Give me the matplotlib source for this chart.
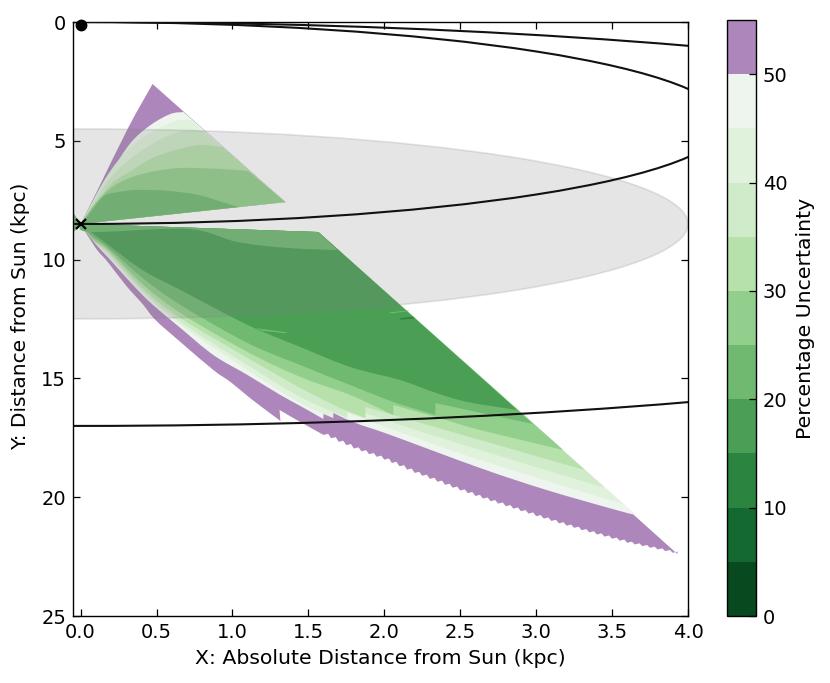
import numpy as np
import matplotlib
matplotlib.use("Agg")
import matplotlib.pyplot as plt
from matplotlib.colors import ListedColormap, BoundaryNorm
from matplotlib.cm import ScalarMappable
from matplotlib.patches import Circle, PathPatch
from matplotlib.path import Path

plt.rcParams['font.family'] = 'DejaVu Sans'

# uncertainty levels and their colours
levels = [0, 5, 10, 15, 20, 25, 30, 35, 40, 45, 50]
band_colors = ['#08491f', '#13692f', '#2b843f', '#4a9f55', '#6fba70',
               '#93cf8c', '#b6e1ab', '#cfebc9', '#e0f2db', '#eef4ee']
over_color = '#ad86bb'
cbar_ticks = [0, 10, 20, 30, 40, 50]
x_ticks = [0.0, 0.5, 1.0, 1.5, 2.0, 2.5, 3.0, 3.5, 4.0]
y_ticks = [0, 5, 10, 15, 20, 25]

# reference geometry (kpc)
sun = (0.0, 0.12)
galactic_centre = (0.0, 8.5)
bulge_radius = 4.0
circle_radii = [8.5, 4.25]
circle_centres_y = [8.5, 4.25]

# lower wedge: corners
low_corner = (1.566, 8.84)
low_tip = (3.93, 22.39)

# lower wedge: outer limit (smooth part, notch)
low_outer_x = [0.099, 0.184, 0.296, 0.408, 0.493, 0.658, 0.875, 0.987, 1.099, 1.184, 1.316, 1.31, 1.434]
low_outer_y = [9.51, 10.14, 11.07, 11.87, 12.54, 13.47, 14.65, 15.15, 15.74, 16.16, 16.79, 16.33, 16.79]
# lower wedge: outer limit (stepped part)
teeth_x = [1.60, 1.65, 1.70, 1.75, 1.80, 1.85, 1.90, 1.95, 2.00, 2.05, 2.10, 2.15,
           2.20, 2.25, 2.30, 2.35, 2.40, 2.45, 2.50, 2.55, 2.60, 2.65, 2.70, 2.75,
           2.80, 2.85, 2.90, 2.95, 3.00, 3.05, 3.10, 3.15, 3.20, 3.25, 3.30, 3.35,
           3.40, 3.45, 3.50, 3.55, 3.60, 3.65, 3.70, 3.75, 3.80, 3.85, 3.90]
teeth_y = [17.38, 17.52, 17.67, 17.81, 17.95, 18.07, 18.19, 18.30, 18.42, 18.56, 18.70, 18.84,
           18.98, 19.10, 19.23, 19.35, 19.48, 19.60, 19.72, 19.83, 19.95, 20.06, 20.17, 20.27,
           20.38, 20.48, 20.59, 20.69, 20.80, 20.90, 21.00, 21.10, 21.20, 21.29, 21.39, 21.48,
           21.57, 21.66, 21.75, 21.83, 21.92, 21.99, 22.06, 22.13, 22.20, 22.27, 22.34]

# lower wedge: contour lines (level -> x, y)
low50_x = [0.099, 0.184, 0.296, 0.408, 0.493, 0.658, 0.875, 1.10, 1.316, 1.447, 1.599, 1.599, 1.796, 2.04, 2.63, 3.07, 3.55, 3.66]
low50_y = [9.34, 9.93, 10.73, 11.49, 12.00, 12.88, 14.02, 14.86, 15.70, 16.16, 16.71, 16.25, 16.84, 17.38, 18.77, 19.70, 20.58, 20.75]
low45_x = [0.09, 0.184, 0.408, 0.658, 1.10, 1.447, 1.664, 1.664, 2.105, 2.63, 3.572]
low45_y = [9.26, 9.85, 11.41, 12.75, 14.65, 16.04, 16.67, 16.25, 17.26, 18.43, 20.29]
low40_x = [0.085, 0.184, 0.408, 0.658, 1.10, 1.447, 1.757, 1.757, 2.105, 2.63, 3.454]
low40_y = [9.22, 9.76, 11.32, 12.63, 14.44, 15.78, 16.67, 16.20, 16.96, 18.01, 19.61]
low35_x = [0.08, 0.184, 0.408, 0.658, 1.10, 1.447, 1.711, 1.875, 1.875, 2.63, 3.322]
low35_y = [9.18, 9.68, 11.20, 12.46, 14.14, 15.40, 16.25, 16.67, 16.20, 17.59, 18.86]
low30_x = [0.07, 0.184, 0.408, 0.658, 1.10, 1.447, 1.776, 2.059, 2.059, 2.336, 2.63, 3.178]
low30_y = [9.09, 9.60, 11.03, 12.25, 13.89, 14.94, 15.70, 16.54, 16.12, 16.62, 17.17, 18.01]
low25_x = [0.066, 0.184, 0.408, 0.658, 1.10, 1.447, 1.776, 2.059, 2.336, 2.336, 2.98]
low25_y = [8.96, 9.51, 10.77, 11.91, 13.51, 14.44, 15.28, 15.99, 16.54, 16.04, 16.92]
low20_x = [0.033, 0.184, 0.408, 0.658, 1.10, 1.447, 1.776, 2.105, 2.322, 2.546, 2.875]
low20_y = [8.67, 9.39, 10.44, 11.28, 12.75, 13.68, 14.52, 15.07, 15.57, 15.99, 16.33]
# lower wedge: top strip
strip_x = [0.066, 0.704, 1.033, 1.362, 1.691]
strip_y = [8.84, 8.71, 9.26, 9.51, 9.60]

# small islands inside the lower wedge
speck1_x = [1.15, 1.36, 1.35, 1.20]
speck1_y = [12.88, 13.06, 13.10, 13.00]
speck2_x = [2.10, 2.19, 2.20, 2.11]
speck2_y = [12.47, 12.40, 12.47, 12.53]
speck3_x = [2.03, 2.16, 2.16, 2.05]
speck3_y = [12.22, 12.14, 12.17, 12.26]

# upper wedge: outline
up_edge_x = [0.112, 0.316, 0.474]
up_edge_y = [7.07, 4.42, 2.61]
up_end = (1.349, 7.58)
# upper wedge: contour lines
up50_x = [0.033, 0.112, 0.197, 0.329, 0.46, 0.592, 0.678]
up50_y = [8.33, 7.20, 6.36, 5.09, 4.34, 3.87, 3.79]
up45_x = [0.145, 0.25, 0.362, 0.493, 0.625, 0.724]
up45_y = [6.78, 5.81, 5.09, 4.55, 4.17, 4.12]
up40_x = [0.099, 0.184, 0.296, 0.428, 0.559, 0.691, 0.809]
up40_y = [7.49, 6.65, 5.93, 5.30, 4.84, 4.55, 4.59]
up35_x = [0.118, 0.21, 0.342, 0.474, 0.625, 0.776, 0.934]
up35_y = [7.49, 6.78, 6.23, 5.72, 5.39, 5.18, 5.26]
up30_x = [0.099, 0.21, 0.342, 0.493, 0.671, 0.934, 1.105]
up30_y = [7.62, 6.94, 6.52, 6.27, 6.14, 6.19, 6.27]
up25_x = [0.053, 0.145, 0.21, 0.362, 0.579, 0.776, 0.934, 1.04]
up25_y = [8.12, 7.37, 7.20, 7.07, 7.11, 7.28, 7.58, 7.79]

# mirror sliver left of the centre
left_x = [-0.05, 0.0, -0.05]
left_y = [8.0, 8.5, 8.88]

fig = plt.figure(figsize=(8.30, 6.83), dpi=100)
W, H = 830.0, 683.0
ax = fig.add_axes([73 / W, 1 - 616 / H, (688 - 73) / W, (616 - 22) / H])
cax = fig.add_axes([727 / W, 1 - 616 / H, (756 - 727) / W, (616 - 20) / H])

apex_x, apex_y = galactic_centre


def runs_of(xs, ys):
    """Split a contour line wherever it jumps vertically."""
    runs, cur = [], [(xs[0], ys[0])]
    for a, b in zip(zip(xs, ys), zip(xs[1:], ys[1:])):
        if abs(a[0] - b[0]) < 0.02 and abs(a[1] - b[1]) > 0.2:
            runs.append(cur)
            cur = []
        cur.append(b)
    runs.append(cur)
    return runs


def add_smooth(verts, codes, run):
    """Append one run as Bezier segments through its read points."""
    p = np.asarray(run, float)
    verts.append(tuple(p[0]))
    codes.append(Path.LINETO)
    n = len(p)
    for i in range(n - 1):
        pm = p[max(i - 1, 0)]
        pn = p[min(i + 2, n - 1)]
        c1 = p[i] + (p[i + 1] - pm) / 6
        c2 = p[i + 1] - (pn - p[i]) / 6
        verts += [tuple(c1), tuple(c2), tuple(p[i + 1])]
        codes += [Path.CURVE4] * 3


def band(xs, ys, end, color, tail=None):
    """Area between the contour line from the centre and the straight far edge."""
    verts, codes = [(apex_x, apex_y)], [Path.MOVETO]
    rr = runs_of([apex_x] + list(xs), [apex_y] + list(ys))
    for r in rr:
        add_smooth(verts, codes, r)
    if tail is not None:
        for q in tail:
            verts.append(q)
            codes.append(Path.LINETO)
    if end is not None:
        verts.append(end)
        codes.append(Path.LINETO)
    verts.append((apex_x, apex_y))
    codes.append(Path.CLOSEPOLY)
    ax.add_patch(PathPatch(Path(verts, codes), facecolor=color, edgecolor='none',
                           linewidth=0, zorder=1))


# lower wedge: purple body with stepped edge
tail = []
for a, b in zip(teeth_x, teeth_y):
    tail += [(a, b), (a + 0.03, b - 0.05)]
tail += [low_tip]
band(low_outer_x, low_outer_y, low_corner, over_color, tail=tail)

low_lines = [(low50_x, low50_y, 9), (low45_x, low45_y, 8), (low40_x, low40_y, 7),
             (low35_x, low35_y, 6), (low30_x, low30_y, 5), (low25_x, low25_y, 4),
             (low20_x, low20_y, 3)]
for xs, ys, idx in low_lines:
    band(xs, ys, low_corner, band_colors[idx])
band(strip_x, strip_y, low_corner, band_colors[4])
ax.fill(speck1_x, speck1_y, facecolor=band_colors[4], edgecolor='none', zorder=1)
ax.fill(speck2_x, speck2_y, facecolor=band_colors[2], edgecolor='none', zorder=1)
ax.fill(speck3_x, speck3_y, facecolor=band_colors[4], edgecolor='none', zorder=1)

# upper wedge
band(up_edge_x, up_edge_y, up_end, over_color)
up_lines = [(up50_x, up50_y, 9), (up45_x, up45_y, 8), (up40_x, up40_y, 7),
            (up35_x, up35_y, 6), (up30_x, up30_y, 5)]
for xs, ys, idx in up_lines:
    band(xs, ys, up_end, band_colors[idx])
band(up25_x, up25_y, None, band_colors[4])
ax.fill(left_x, left_y, facecolor=band_colors[4], edgecolor='none', zorder=1)

# grey bulge
ax.add_patch(Circle(galactic_centre, bulge_radius, facecolor='gray', edgecolor='gray',
                    alpha=0.2, linewidth=1.2, zorder=2))
# circles of constant reference
for r, cy in zip(circle_radii, circle_centres_y):
    ax.add_patch(Circle((0.0, cy), r, fill=False, edgecolor='#111111', linewidth=1.5, zorder=3))

ax.plot([sun[0]], [sun[1]], 'o', color='k', ms=7.5, clip_on=False, zorder=5)
ax.plot([galactic_centre[0]], [galactic_centre[1]], 'x', color='k', ms=7, mew=1.6,
        clip_on=False, zorder=5)

ax.set_xlim(-0.05, 4.0)
ax.set_ylim(25, 0)
ax.set_xticks(x_ticks)
ax.set_yticks(y_ticks)
ax.set_xticklabels(['%.1f' % v for v in x_ticks])
ax.tick_params(direction='in', length=5, width=0.9, top=True, right=True, labelsize=14, pad=5)
for s in ax.spines.values():
    s.set_linewidth(1.0)
ax.set_xlabel('X: Absolute Distance from Sun (kpc)', fontsize=14.7, labelpad=5)
ax.set_ylabel('Y: Distance from Sun (kpc)', fontsize=14.5, labelpad=8, y=0.505)

cmap = ListedColormap(band_colors)
cmap.set_over(over_color)
norm = BoundaryNorm(levels, cmap.N, extend='neither')
sm = ScalarMappable(norm=norm, cmap=cmap)
cb = fig.colorbar(sm, cax=cax, extend='max', extendrect=True, extendfrac=0.1,
                  spacing='uniform', ticks=cbar_ticks, drawedges=False)
cb.minorticks_off()
cb.ax.tick_params(direction='in', length=5, width=0.9, labelsize=14, pad=5)
cb.outline.set_linewidth(1.0)
cb.set_label('Percentage Uncertainty', fontsize=14.7, labelpad=6, y=0.55)

fig.savefig('out.png', dpi=100)
